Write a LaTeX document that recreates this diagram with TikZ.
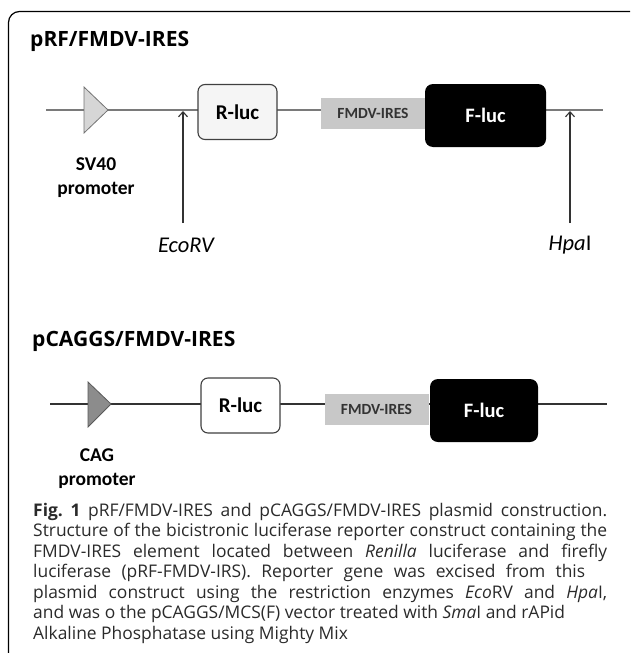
\documentclass[tikz,border=0pt]{standalone}
\usepackage{fontspec}
\setmainfont{Open Sans}
\newfontfamily\calfont{Carlito}
\usetikzlibrary{arrows.meta}
\definecolor{linegray}{HTML}{7A7A7A}
\definecolor{tri1}{HTML}{D6D6D6}
\definecolor{tri2}{HTML}{8C8C8C}
\definecolor{iresgray}{HTML}{C8C8C8}
\definecolor{capcol}{HTML}{2A2A2A}
\newlength\mywd
\newlength\mywdb
\tikzset{
  ttl/.style={anchor=base west, inner sep=0pt, font=\bfseries\fontsize{\ttlsz}{22}\selectfont},
  lbl/.style={align=center, inner sep=0pt, font=\calfont\bfseries\fontsize{19.5}{24}\selectfont},
  rbox/.style={draw=black!75, line width=1.1pt, rounded corners=7pt, minimum width=79pt, minimum height=55pt, inner sep=0pt, font=\calfont\bfseries\fontsize{21}{24}\selectfont},
  iresbox/.style={fill=iresgray, minimum width=104pt, minimum height=31pt, inner sep=0pt, text=black!80, font=\calfont\bfseries\fontsize{15.5}{17}\selectfont},
  fbox/.style={fill=black, rounded corners=8pt, inner sep=0pt, text=white, font=\calfont\bfseries\fontsize{20.5}{24}\selectfont},
  enz/.style={inner sep=0pt, font=\calfont\fontsize{22.5}{26}\selectfont},
  cutarrow/.style={draw=black!80, line width=1.1pt, -{Straight Barb[length=5pt,width=9pt,line width=1.1pt]}},
  captext/.style={anchor=base west, inner sep=0pt, text=capcol, font=\frenchspacing\fontsize{\capsz}{20}\selectfont},
}
\begin{document}
\sbox0{\fontsize{10}{12}\selectfont Structure of the bicistronic luciferase reporter construct containing the}%
\setlength\mywd{\wd0}%
\sbox0{\fontsize{10}{12}\selectfont\bfseries pRF/FMDV-IRES}%
\setlength\mywdb{\wd0}%
\pgfmathsetmacro\capsz{10*571/\mywd}%
\pgfmathsetmacro\ttlsz{10*159/\mywdb}%
\begin{tikzpicture}[x=1pt,y=-1pt]
\useasboundingbox (0,0) rectangle (630,653);
\clip (0,0) rectangle (630,653);
\draw[line width=1.2pt, rounded corners=11pt] (8.5,11.5) rectangle (645,668);

% ---- construct 1
\node[ttl] (t1) at (30,46) {pRF/FMDV-IRES};
\coordinate (a1) at (46,110);
\coordinate (b1) at (603,110);
\draw[linegray, line width=1.5pt] (a1) -- (b1);
\filldraw[fill=tri1, draw=black!55, line width=0.8pt] (84,87) -- (108,110) -- (84,133) -- cycle;
\node[rbox, fill=black!4] (r1) at (237.5,112) {R-luc};
\node[iresbox] (i1) at (373,113.5) {FMDV-IRES};
\node[fbox, minimum width=121pt, minimum height=63pt] (f1) at (485.5,115.5) {F-luc};
\node[lbl] (sv) at (96,178) {SV40\\promoter};
\node[enz] (eco) at (186,245) {\itshape EcoRV};
\node[enz] (hpa) at (570,245) {\textit{Hpa}I};
\coordinate (ecob) at (183,223);
\coordinate (ecot) at (183,111);
\coordinate (hpab) at (570,223);
\coordinate (hpat) at (570,111);
\draw[cutarrow] (ecob) -- (ecot);
\draw[cutarrow] (hpab) -- (hpat);

% ---- construct 2
\node[ttl] (t2) at (32,346) {pCAGGS/FMDV-IRES};
\coordinate (a2) at (50,404);
\coordinate (b2) at (607,404);
\draw[black!80, line width=1.4pt] (a2) -- (b2);
\filldraw[fill=tri2, draw=black!65, line width=0.8pt] (88,382) -- (111,404) -- (88,427) -- cycle;
\node[rbox, fill=white] (r2) at (240.5,405.5) {R-luc};
\node[iresbox] (i2) at (376.5,409) {FMDV-IRES};
\node[fbox, minimum width=108pt, minimum height=63pt] (f2) at (484,410.5) {F-luc};
\node[lbl] (cag) at (97,469) {CAG\\promoter};

% ---- caption
\node[captext] (c1) at (33,516) {\makebox[574pt][s]{\textbf{Fig. 1} pRF/FMDV-IRES and pCAGGS/FMDV-IRES plasmid construction.}};
\node[captext] (c2) at (33,536.5) {\makebox[574pt][s]{Structure of the bicistronic luciferase reporter construct containing the}};
\node[captext] (c3) at (33,557) {\makebox[574pt][s]{FMDV-IRES element located between \textit{Renilla} luciferase and firefly}};
\node[captext] (c4) at (33,577.5) {\makebox[552pt][s]{luciferase (pRF-FMDV-IRS). Reporter gene was excised from this}};
\node[captext] (c5) at (33,598) {\makebox[574pt][s]{plasmid construct using the restriction enzymes \textit{Eco}RV and \textit{Hpa}I,}};
\node[captext] (c6) at (33,618.5) {and was o the pCAGGS/MCS(F) vector treated with \textit{Sma}I and rAPid};
\node[captext] (c7) at (33,639) {Alkaline Phosphatase using Mighty Mix};
\end{tikzpicture}
\end{document}
